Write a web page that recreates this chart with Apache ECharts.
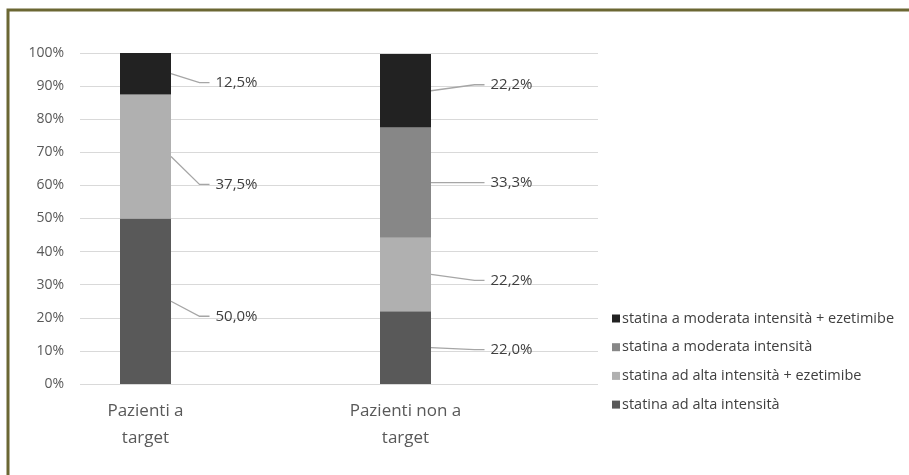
<!DOCTYPE html>
<html>
<head>
<meta charset="utf-8">
<script src="https://cdn.jsdelivr.net/npm/echarts@6/dist/echarts.min.js"></script>
<style>
  html, body { margin: 0; padding: 0; background: #ffffff; }
  #chart { width: 909px; height: 475px; }
</style>
</head>
<body>
<div id="chart"></div>
<script>
// Patient groups on the x axis
const categories = ['Pazienti a target', 'Pazienti non a target'];

// Share of patients (%) per therapy, one value per group
const altaIntensita = [50.0, 22.0];
const altaEzetimibe = [37.5, 22.2];
const moderataIntensita = [0, 33.3];
const moderataEzetimibe = [12.5, 22.2];

// Tick labels of the percentage axis
const yTicks = [0, 10, 20, 30, 40, 50, 60, 70, 80, 90, 100];

// Series names, bottom to top of each stacked bar
const seriesNames = [
  'statina ad alta intensità',
  'statina ad alta intensità + ezetimibe',
  'statina a moderata intensità',
  'statina a moderata intensità + ezetimibe'
];

// --- styling ---
const seriesColors = ['#595959', '#b0b0b0', '#878787', '#222222'];
const BAR_WIDTH = 51;
// vertical nudge (px) of each data label away from its segment middle, per series / group
const labelNudge = [[15, 2], [28, 6], [0, 0], [9, -6]];
// horizontal distance (px) from bar centre to label text, per group
const labelDistance = [70, 85];
const FONT = '"Open Sans", "Noto Sans", sans-serif';
const TEXT_COLOR = '#3f3f3f';

const seriesValues = [altaIntensita, altaEzetimibe, moderataIntensita, moderataEzetimibe];

// Label anchors: [group, middle of segment, segment value, nudge, text distance]
const labelItems = [];
categories.forEach((c, ci) => {
  let base = 0;
  seriesValues.forEach((vals, si) => {
    const v = vals[ci];
    if (v > 0) {
      labelItems.push([ci, base + v / 2, v, labelNudge[si][ci], labelDistance[ci]]);
    }
    base += v;
  });
});

const fmtPct = v => v.toFixed(1).replace('.', ',') + '%';

const chart = echarts.init(document.getElementById('chart'), null, { renderer: 'canvas' });

const barSeries = seriesNames.map((name, si) => ({
  name: name,
  type: 'bar',
  stack: 'totale',
  xAxisIndex: 1,
  yAxisIndex: 1,
  barWidth: BAR_WIDTH,
  itemStyle: { color: seriesColors[si] },
  data: seriesValues[si]
}));

chart.setOption({
  animation: false,
  backgroundColor: '#ffffff',
  // olive frame along the top and left edges
  graphic: [{
    type: 'polyline',
    shape: { points: [[8, 1000], [8, 10], [1200, 10]] },
    style: { fill: null, stroke: '#6b6733', lineWidth: 3 },
    silent: true,
    z: 100
  }],
  legend: {
    orient: 'vertical',
    left: 607,
    top: 306,
    itemWidth: 8,
    itemHeight: 8,
    itemGap: 13.7,
    icon: 'rect',
    data: seriesNames.slice().reverse(),
    textStyle: { color: TEXT_COLOR, fontSize: 14.5, fontFamily: FONT, lineHeight: 14, padding: [0, 0, 0, -3] }
  },
  grid: [
    { left: 80, right: 311, top: 53, bottom: 91 },
    { left: 15.5, width: 520, top: 53, bottom: 91 }
  ],
  xAxis: [
    { type: 'value', gridIndex: 0, show: false, min: 0, max: 1 },
    {
      type: 'category',
      gridIndex: 1,
      data: categories,
      axisLine: { show: false },
      axisTick: { show: false },
      axisLabel: {
        color: '#595959',
        fontSize: 17,
        fontFamily: FONT,
        lineHeight: 27,
        margin: 14,
        formatter: v => v.replace(/ (\S+)$/, '\n$1')
      }
    }
  ],
  yAxis: [
    {
      type: 'value',
      gridIndex: 0,
      min: yTicks[0],
      max: yTicks[yTicks.length - 1],
      interval: yTicks[1] - yTicks[0],
      axisLine: { show: false },
      axisTick: { show: false },
      axisLabel: { color: '#595959', fontSize: 14, fontFamily: FONT, margin: 16, formatter: '{value}%' },
      splitLine: { lineStyle: { color: '#d9d9d9', width: 1 } }
    },
    { type: 'value', gridIndex: 1, min: 0, max: 100, show: false }
  ],
  series: barSeries.concat([{
    type: 'custom',
    xAxisIndex: 1,
    yAxisIndex: 1,
    silent: true,
    z: 10,
    data: labelItems,
    renderItem: function (params, api) {
      const p = api.coord([api.value(0), api.value(1)]);
      const x0 = p[0] + BAR_WIDTH / 2;
      const y0 = p[1];
      const tx = p[0] + api.value(4);
      const ty = y0 + api.value(3);
      return {
        type: 'group',
        children: [
          {
            type: 'polyline',
            shape: { points: [[x0, y0], [tx - 16, ty], [tx - 6, ty]] },
            style: { stroke: '#a6a6a6', lineWidth: 1.3, fill: null }
          },
          {
            type: 'text',
            x: tx,
            y: ty,
            style: {
              text: fmtPct(api.value(2)),
              fill: TEXT_COLOR,
              font: '15px ' + FONT,
              verticalAlign: 'middle',
              align: 'left'
            }
          }
        ]
      };
    }
  }])
});
</script>
</body>
</html>
